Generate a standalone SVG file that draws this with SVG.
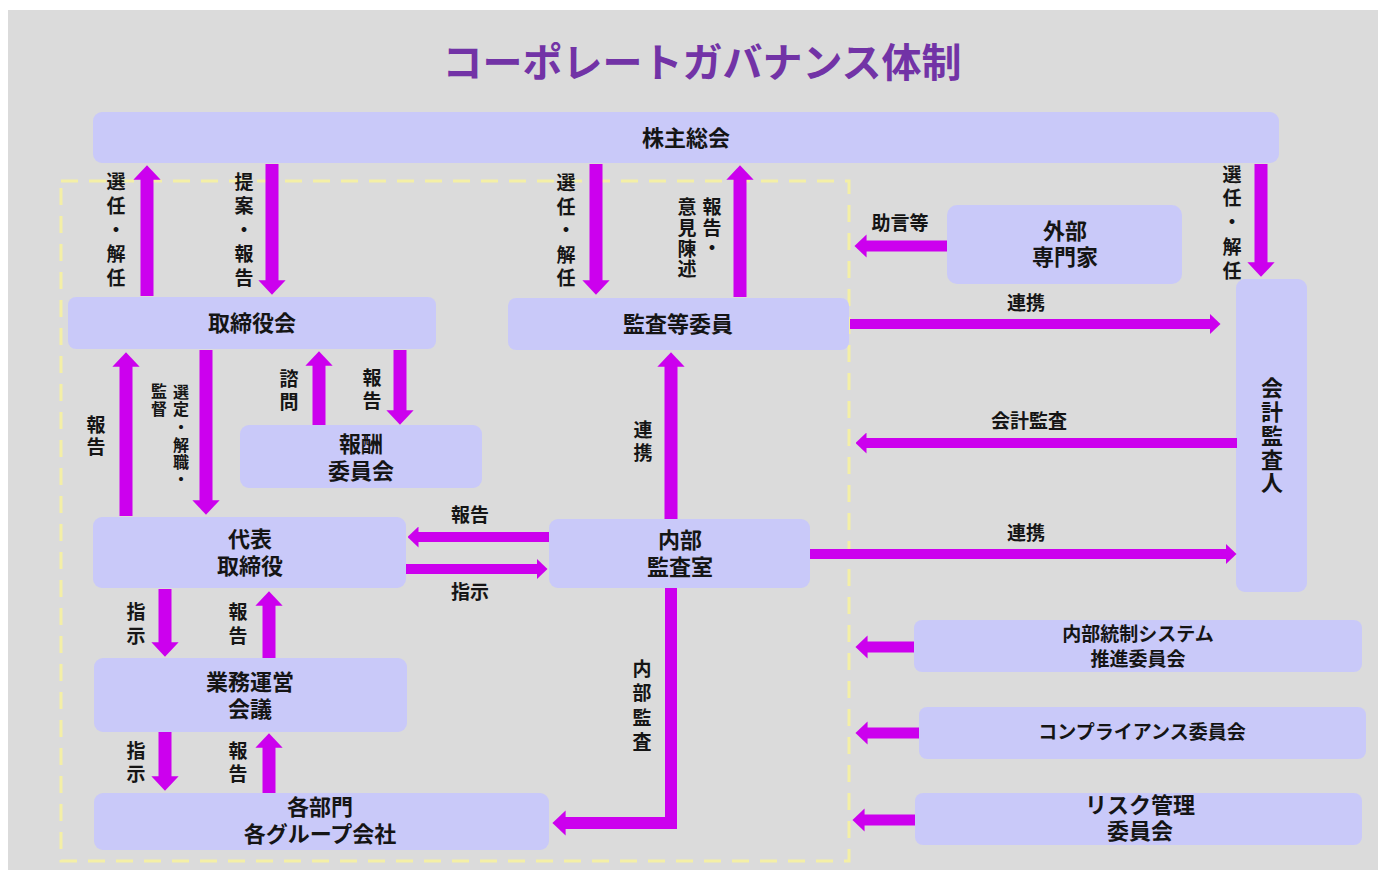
<svg xmlns="http://www.w3.org/2000/svg" width="1378" height="870" viewBox="0 0 1378 870">
<defs>
<style>
.bg{fill:#dbdbdb}
.box{fill:#c9c9f9}
.t{font-family:"Noto Sans CJK JP","Noto Sans",sans-serif;font-weight:700;fill:#151515;text-anchor:middle;dominant-baseline:central}
.bt{font-size:22px}
.lt{font-size:19px}
.st{font-size:16px}
.title{font-family:"Noto Sans CJK JP","Noto Sans",sans-serif;font-weight:700;font-size:40px;fill:#7233a6;text-anchor:middle;dominant-baseline:central}
.v{stroke:#cc00ee;stroke-width:13;fill:none;marker-end:url(#ah)}
.h{stroke:#cc00ee;stroke-width:10;fill:none;marker-end:url(#ah)}
.s{stroke:#cc00ee;stroke-width:11;fill:none;marker-end:url(#ah)}
.e{stroke:#cc00ee;stroke-width:12;fill:none;stroke-linejoin:miter;marker-end:url(#ah)}
.dash{fill:none;stroke:#f4efa6;stroke-width:3;stroke-dasharray:17 11}
</style>
<marker id="ah" viewBox="0 0 11 21" refX="0.5" refY="10.5" markerWidth="1.1" markerHeight="2.1" markerUnits="strokeWidth" orient="auto">
<path d="M0,0 L11,10.5 L0,21 z" fill="#cc00ee"/>
</marker>
</defs>
<rect x="0" y="0" width="1378" height="870" fill="#ffffff"/>
<rect class="bg" x="8" y="10" width="1370" height="860"/>
<text class="title" x="702" y="60">コーポレートガバナンス体制</text>
<rect class="dash" x="61" y="181" width="788" height="680"/>

<g id="node-shareholders"><rect class="box" x="93" y="112" width="1186" height="51" rx="9"/><text class="t bt" x="686" y="136">株主総会</text></g>
<g id="node-board"><rect class="box" x="68" y="297" width="368" height="52" rx="8"/><text class="t bt" x="252" y="321">取締役会</text></g>
<g id="node-audit-committee"><rect class="box" x="508" y="298" width="341" height="52" rx="8"/><text class="t bt" x="678" y="322">監査等委員</text></g>
<g id="node-experts"><rect class="box" x="947" y="205" width="235" height="79" rx="10"/><text class="t bt" x="1065" y="229">外部</text><text class="t bt" x="1065" y="255">専門家</text></g>
<g id="node-accounting-auditor"><rect class="box" x="1236" y="279" width="71" height="313" rx="9"/><text class="t bt" x="1272"><tspan x="1272" y="386">会</tspan><tspan x="1272" y="410">計</tspan><tspan x="1272" y="434">監</tspan><tspan x="1272" y="458">査</tspan><tspan x="1272" y="481">人</tspan></text></g>
<g id="node-compensation"><rect class="box" x="240" y="425" width="242" height="63" rx="9"/><text class="t bt" x="361" y="442">報酬</text><text class="t bt" x="361" y="469">委員会</text></g>
<g id="node-ceo"><rect class="box" x="93" y="517" width="313" height="71" rx="9"/><text class="t bt" x="250" y="537">代表</text><text class="t bt" x="250" y="564">取締役</text></g>
<g id="node-internal-audit"><rect class="box" x="549" y="519" width="261" height="69" rx="9"/><text class="t bt" x="680" y="538">内部</text><text class="t bt" x="680" y="565">監査室</text></g>
<g id="node-management-meeting"><rect class="box" x="94" y="658" width="313" height="74" rx="9"/><text class="t bt" x="250" y="680">業務運営</text><text class="t bt" x="250" y="707">会議</text></g>
<g id="node-departments"><rect class="box" x="94" y="793" width="455" height="57" rx="9"/><text class="t bt" x="320" y="805">各部門</text><text class="t bt" x="320" y="832">各グループ会社</text></g>
<g id="node-internal-control"><rect class="box" x="914" y="620" width="448" height="52" rx="8"/><text class="t lt" x="1138" y="632">内部統制システム</text><text class="t lt" x="1138" y="657">推進委員会</text></g>
<g id="node-compliance"><rect class="box" x="919" y="707" width="447" height="52" rx="8"/><text class="t lt" x="1142" y="730">コンプライアンス委員会</text></g>
<g id="node-risk"><rect class="box" x="915" y="793" width="447" height="52" rx="8"/><text class="t bt" x="1140" y="803">リスク管理</text><text class="t bt" x="1140" y="829">委員会</text></g>

<g id="connectors">
<line class="v" x1="147" y1="296" x2="147" y2="179"/>
<line class="v" x1="272" y1="164" x2="272" y2="281"/>
<line class="v" x1="596" y1="164" x2="596" y2="281"/>
<line class="v" x1="740" y1="297" x2="740" y2="179"/>
<line class="v" x1="1261" y1="164" x2="1261" y2="263"/>
<line class="v" x1="126" y1="516" x2="126" y2="366"/>
<line class="v" x1="206" y1="350" x2="206" y2="501"/>
<line class="v" x1="319" y1="425" x2="319" y2="365"/>
<line class="v" x1="400" y1="350" x2="400" y2="411"/>
<line class="v" x1="671" y1="519" x2="671" y2="366"/>
<line class="v" x1="165" y1="589" x2="165" y2="643"/>
<line class="v" x1="269" y1="658" x2="269" y2="605"/>
<line class="v" x1="165" y1="732" x2="165" y2="777"/>
<line class="v" x1="269" y1="793" x2="269" y2="747"/>
<line class="h" x1="850" y1="324" x2="1210" y2="324"/>
<line class="h" x1="1237" y1="443" x2="866" y2="443"/>
<line class="h" x1="810" y1="554" x2="1226" y2="554"/>
<line class="h" x1="549" y1="537" x2="418" y2="537"/>
<line class="h" x1="406" y1="569" x2="537" y2="569"/>
<line class="s" x1="947" y1="246" x2="866" y2="246"/>
<line class="s" x1="914" y1="647" x2="867" y2="647"/>
<line class="s" x1="919" y1="733" x2="867" y2="733"/>
<line class="s" x1="915" y1="820" x2="864" y2="820"/>
<path class="e" d="M671,588 V823 H565"/>

<text class="t lt" x="116"><tspan x="116" y="180">選</tspan><tspan x="116" y="204">任</tspan><tspan x="116" y="228">・</tspan><tspan x="116" y="252">解</tspan><tspan x="116" y="276">任</tspan></text>
<text class="t lt" x="244"><tspan x="244" y="180">提</tspan><tspan x="244" y="204">案</tspan><tspan x="244" y="228">・</tspan><tspan x="244" y="252">報</tspan><tspan x="244" y="276">告</tspan></text>
<text class="t lt" x="566"><tspan x="566" y="181">選</tspan><tspan x="566" y="205">任</tspan><tspan x="566" y="228">・</tspan><tspan x="566" y="253">解</tspan><tspan x="566" y="276">任</tspan></text>
<text class="t lt" x="712"><tspan x="712" y="205">報</tspan><tspan x="712" y="226">告</tspan><tspan x="712" y="246">・</tspan></text>
<text class="t lt" x="687"><tspan x="687" y="205">意</tspan><tspan x="687" y="226">見</tspan><tspan x="687" y="247">陳</tspan><tspan x="687" y="267">述</tspan></text>
<text class="t lt" x="1232"><tspan x="1232" y="173">選</tspan><tspan x="1232" y="196">任</tspan><tspan x="1232" y="220">・</tspan><tspan x="1232" y="245">解</tspan><tspan x="1232" y="269">任</tspan></text>
<text class="t lt" x="900" y="221">助言等</text>
<text class="t lt" x="1026" y="301">連携</text>
<text class="t lt" x="1029" y="419">会計監査</text>
<text class="t lt" x="1026" y="531">連携</text>
<text class="t lt" x="96"><tspan x="96" y="423">報</tspan><tspan x="96" y="445">告</tspan></text>
<text class="t st" x="181"><tspan x="181" y="391">選</tspan><tspan x="181" y="408">定</tspan><tspan x="181" y="426">・</tspan><tspan x="181" y="444">解</tspan><tspan x="181" y="461">職</tspan><tspan x="181" y="478">・</tspan></text>
<text class="t st" x="159"><tspan x="159" y="390">監</tspan><tspan x="159" y="408">督</tspan></text>
<text class="t lt" x="289"><tspan x="289" y="377">諮</tspan><tspan x="289" y="400">問</tspan></text>
<text class="t lt" x="372"><tspan x="372" y="376">報</tspan><tspan x="372" y="399">告</tspan></text>
<text class="t lt" x="470" y="513">報告</text>
<text class="t lt" x="470" y="590">指示</text>
<text class="t lt" x="643"><tspan x="643" y="428">連</tspan><tspan x="643" y="451">携</tspan></text>
<text class="t lt" x="642"><tspan x="642" y="667">内</tspan><tspan x="642" y="691">部</tspan><tspan x="642" y="716">監</tspan><tspan x="642" y="740">査</tspan></text>
<text class="t lt" x="136"><tspan x="136" y="610">指</tspan><tspan x="136" y="634">示</tspan></text>
<text class="t lt" x="238"><tspan x="238" y="610">報</tspan><tspan x="238" y="634">告</tspan></text>
<text class="t lt" x="136"><tspan x="136" y="749">指</tspan><tspan x="136" y="772">示</tspan></text>
<text class="t lt" x="238"><tspan x="238" y="749">報</tspan><tspan x="238" y="772">告</tspan></text>
</g>
</svg>
